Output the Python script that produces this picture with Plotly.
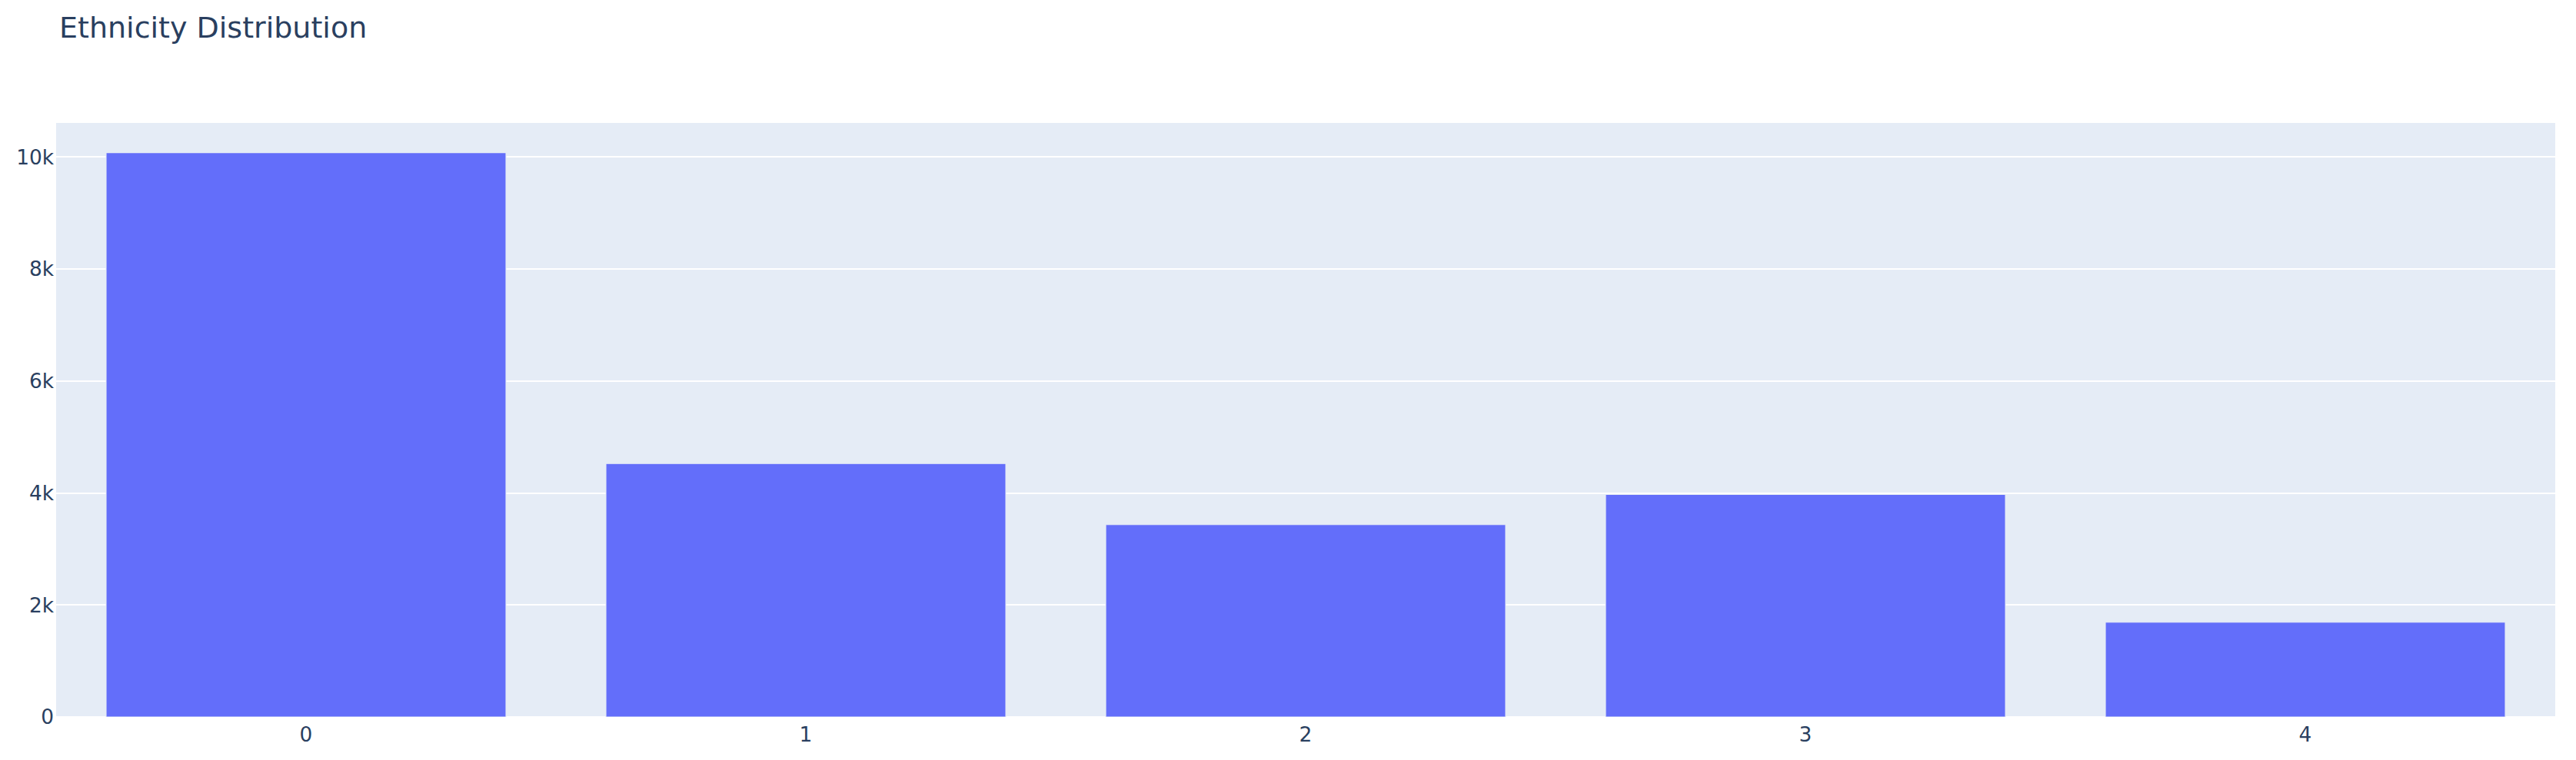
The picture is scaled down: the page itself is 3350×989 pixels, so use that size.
import plotly.graph_objects as go

categories = ["0", "1", "2", "3", "4"]
counts = [10078, 4526, 3434, 3975, 1692]

fig = go.Figure(go.Bar(
    x=categories, y=counts,
    marker=dict(color="#636efa", line=dict(color="#E5ECF6", width=1.1)),
))

fig.update_layout(
    template="plotly",
    width=3350,
    height=989,
    margin=dict(l=73, r=27, t=160, b=56, autoexpand=False),
    font=dict(family="Verdana, DejaVu Sans, sans-serif", size=26.4, color="#2a3f5f"),
    title=dict(
        text="Ethnicity Distribution",
        font=dict(size=38),
        x=77 / 3350,
        xanchor="left",
        xref="container",
        y=1 - 36 / 989,
        yanchor="middle",
        yref="container",
    ),
    xaxis=dict(type="category", automargin=False, ticklabelstandoff=5),
    yaxis=dict(automargin=False, gridwidth=2.2, ticklabelstandoff=2),
)

fig.write_html(
    "out.html",
    config={"displayModeBar": False},
    post_script="document.body.style.margin='0';document.body.style.overflow='hidden';",
)
